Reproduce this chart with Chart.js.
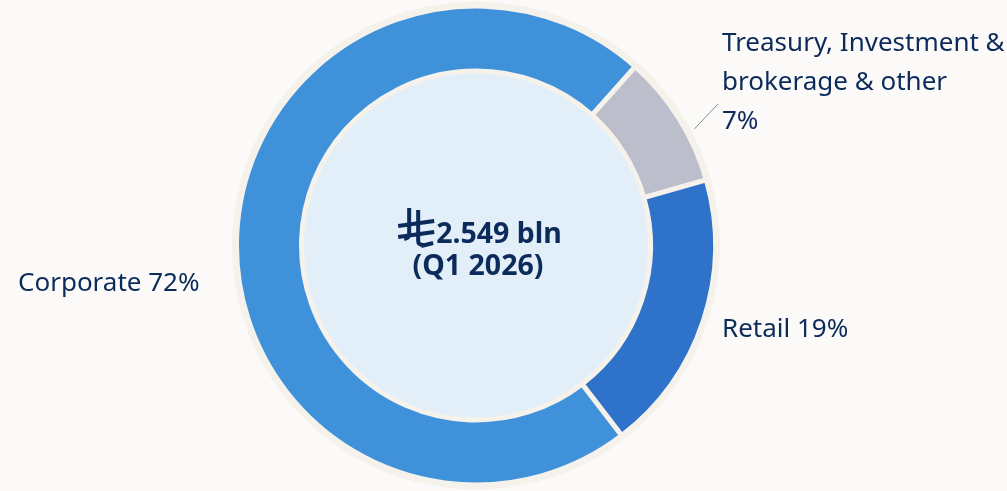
<!DOCTYPE html>
<html>
<head>
<meta charset="utf-8">
<script src="https://cdn.jsdelivr.net/npm/chart.js@4.4.1/dist/chart.umd.min.js"></script>
<style>
  html, body { margin: 0; padding: 0; background: #fbfaf8; }
  #wrap { width: 1007px; height: 491px; }
</style>
</head>
<body>
<div id="wrap"><canvas id="chart" width="1007" height="491"></canvas></div>
<script>
// segment data (slice sizes as drawn, label text as printed)
const segments = ["Corporate", "Treasury, Investment & brokerage & other", "Retail"];
const shares = [72, 9, 19];
const shareLabels = ["72%", "7%", "19%"];
const colors = ["#3f92da", "#bcbecb", "#2e73c9"];
const totalLabel = "2.549 bln";
const periodLabel = "(Q1 2026)";

const navy = "#0c2b5a";
const cream = "#f5f2ec";
const font = '"Noto Sans", "Open Sans", sans-serif';

// Saudi riyal sign drawn as strokes (glyph not in installed fonts)
function drawRiyal(ctx, x, y, s) {
  ctx.save();
  ctx.translate(x, y);
  ctx.scale(s, s);
  ctx.strokeStyle = navy;
  ctx.lineWidth = 4;
  ctx.lineCap = "butt";
  ctx.beginPath();
  ctx.moveTo(11, 0); ctx.lineTo(11, 26); ctx.quadraticCurveTo(11, 30, 6, 31);
  ctx.moveTo(20, 2); ctx.lineTo(20, 33); ctx.quadraticCurveTo(20, 37, 26, 37);
  ctx.moveTo(0, 18); ctx.lineTo(36, 13);
  ctx.moveTo(0, 29); ctx.lineTo(36, 24);
  ctx.moveTo(23, 38); ctx.lineTo(35, 35);
  ctx.stroke();
  ctx.restore();
}

const decor = {
  id: "decor",
  beforeDatasetsDraw(chart) {
    const ctx = chart.ctx;
    const a = chart.getDatasetMeta(0).data[0];
    ctx.save();
    ctx.fillStyle = cream;
    ctx.beginPath();
    ctx.arc(a.x, a.y, a.outerRadius + 4.5, 0, Math.PI * 2);
    ctx.fill();
    ctx.restore();
  },
  afterDatasetsDraw(chart) {
    const ctx = chart.ctx;
    const meta = chart.getDatasetMeta(0);
    const a = meta.data[0];
    const cx = a.x, cy = a.y;
    ctx.save();
    // inner disc
    ctx.fillStyle = "#e2eef8";
    ctx.beginPath();
    ctx.arc(cx, cy, a.innerRadius - 2.5, 0, Math.PI * 2);
    ctx.fill();

    // centre text
    ctx.fillStyle = navy;
    ctx.textBaseline = "alphabetic";
    ctx.font = "bold 28.5px " + font;
    const w = ctx.measureText(totalLabel).width;
    const symW = 38;
    const left = cx + 4 - (symW + w) / 2;
    drawRiyal(ctx, left, 208, 1);
    ctx.textAlign = "left";
    ctx.fillText(totalLabel, left + symW, 243);
    ctx.textAlign = "center";
    ctx.fillText(periodLabel, cx + 2, 275);

    // leader line for the small slice
    const t = meta.data[1];
    const mid = (t.startAngle + t.endAngle) / 2 + 0.07;
    const r0 = t.outerRadius + 8;
    ctx.strokeStyle = "#8c8c8c";
    ctx.lineWidth = 1;
    ctx.beginPath();
    ctx.moveTo(cx + r0 * Math.cos(mid), cy + r0 * Math.sin(mid));
    ctx.lineTo(718, 104);
    ctx.stroke();

    // outside labels
    ctx.font = "26px " + font;
    ctx.textAlign = "left";
    ctx.fillText(segments[0] + " " + shareLabels[0], 18, 291);
    ctx.fillText("Treasury, Investment &", 722, 51);
    ctx.fillText("brokerage & other", 722, 90);
    ctx.fillText(shareLabels[1], 722, 129);
    ctx.fillText(segments[2] + " " + shareLabels[2], 722, 337);
    ctx.restore();
  }
};

new Chart(document.getElementById("chart"), {
  type: "doughnut",
  data: {
    labels: segments,
    datasets: [{
      data: shares,
      backgroundColor: colors,
      borderColor: cream,
      borderWidth: 5,
      hoverOffset: 0
    }]
  },
  options: {
    responsive: false,
    animation: false,
    radius: 239.5,
    cutout: "72.86%",
    rotation: 142.5,
    layout: { padding: { left: 0, right: 55, top: 0, bottom: 0 } },
    plugins: { legend: { display: false }, tooltip: { enabled: false } }
  },
  plugins: [decor]
});
</script>
</body>
</html>
